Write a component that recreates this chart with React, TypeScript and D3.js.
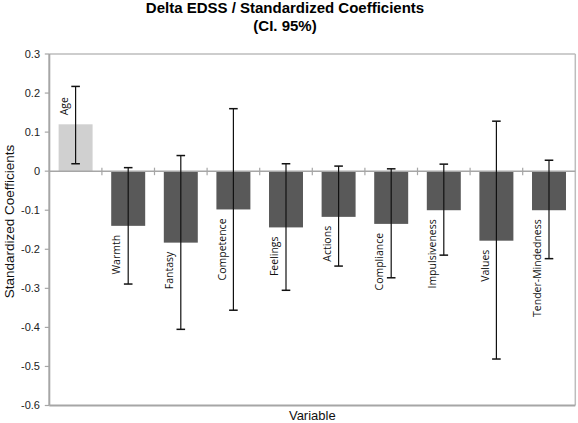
import React from "react";
import * as d3 from "d3";

const categories = ["Age", "Warmth", "Fantasy", "Competence", "Feelings", "Actions", "Compliance", "Impulsiveness", "Values", "Tender-Mindedness"];
const coefficients = [0.12, -0.14, -0.183, -0.098, -0.144, -0.117, -0.135, -0.1, -0.178, -0.1];
const ciUpper = [0.217, 0.009, 0.04, 0.16, 0.019, 0.013, 0.006, 0.018, 0.128, 0.028];
const ciLower = [0.019, -0.289, -0.405, -0.356, -0.305, -0.243, -0.273, -0.215, -0.481, -0.224];
const yTicks = [0.3, 0.2, 0.1, 0, -0.1, -0.2, -0.3, -0.4, -0.5, -0.6];

const W = 578;
const H = 423;
const left = 49.3;
const right = 575.3;
const top = 54;
const bottom = 405.5;

export default function App() {
  const x = d3.scaleBand<string>().domain(categories).range([left, right]).paddingInner(0.354).paddingOuter(0.177);
  const y = d3.scaleLinear().domain([-0.6, 0.3]).range([bottom, top]);
  const step = x.step();
  const bw = x.bandwidth();
  const y0 = y(0);
  const fmt = (v: number) => (v === 0 ? "0" : d3.format(".1f")(v).replace("\u2212", "-"));
  const sans = "'Liberation Sans', Arial, sans-serif";
  const lab = "'Open Sans', sans-serif";

  return (
    <svg width={W} height={H} style={{ position: "absolute", left: 0, top: 0, background: "#fff" }}>
      <rect x={0} y={0} width={W} height={H} fill="#fff" />
      {/* title */}
      <text x={285} y={13} textAnchor="middle" fontFamily={sans} fontWeight="bold" fontSize={15} fill="#000">
        Delta EDSS / Standardized Coefficients
      </text>
      <text x={285} y={31} textAnchor="middle" fontFamily={sans} fontWeight="bold" fontSize={15} fill="#000">
        (CI. 95%)
      </text>

      {/* frame */}
      <line x1={left} x2={right} y1={top} y2={top} stroke="#bdbdbd" strokeWidth={1.5} />
      <line x1={right} x2={right} y1={top} y2={bottom} stroke="#bdbdbd" strokeWidth={1.5} />
      <line x1={left} x2={right} y1={bottom} y2={bottom} stroke="#a6a6a6" strokeWidth={2} />
      <line x1={left} x2={left} y1={top} y2={bottom} stroke="#a6a6a6" strokeWidth={2} />

      {/* y ticks */}
      {yTicks.map((t) => (
        <g key={t}>
          <line x1={left - 4.5} x2={left} y1={y(t)} y2={y(t)} stroke="#a6a6a6" strokeWidth={1.2} />
          <text x={40} y={y(t)} dy="0.35em" textAnchor="end" fontFamily={sans} fontSize={11} fill="#222">
            {fmt(t)}
          </text>
        </g>
      ))}

      {/* bars */}
      {categories.map((c, i) => {
        const v = coefficients[i];
        const bx = x(c) as number;
        return (
          <rect
            key={c}
            x={bx}
            y={Math.min(y(v), y0)}
            width={bw}
            height={Math.abs(y(v) - y0)}
            fill={v >= 0 ? "#d0d0d0" : "#595959"}
          />
        );
      })}

      {/* zero line */}
      <line x1={left} x2={right} y1={y0} y2={y0} stroke="#a6a6a6" strokeWidth={1.5} />
      {categories.map((c, i) =>
        i === 0 ? null : (
          <line key={c} x1={left + i * step} x2={left + i * step} y1={y0 - 3.5} y2={y0 + 4} stroke="#a6a6a6" strokeWidth={1.2} />
        )
      )}

      {/* error bars */}
      {categories.map((c, i) => {
        const cx = (x(c) as number) + bw / 2;
        return (
          <g key={c} stroke="#111">
            <line x1={cx} x2={cx} y1={y(ciUpper[i])} y2={y(ciLower[i])} strokeWidth={1.2} />
            <line x1={cx - 4.3} x2={cx + 4.3} y1={y(ciUpper[i])} y2={y(ciUpper[i])} strokeWidth={1.5} />
            <line x1={cx - 4.3} x2={cx + 4.3} y1={y(ciLower[i])} y2={y(ciLower[i])} strokeWidth={1.5} />
          </g>
        );
      })}

      {/* category labels */}
      {categories.map((c, i) => {
        const v = coefficients[i];
        const cx = (x(c) as number) + bw / 2 - 11.5;
        const yy = v >= 0 ? y(v) - 9 : y(v) + 9;
        return (
          <text
            key={c}
            transform={`translate(${cx},${yy}) rotate(-90)`}
            dy="0.35em"
            textAnchor={v >= 0 ? "start" : "end"}
            fontFamily={lab}
            fontSize={10.5}
            fill="#111"
          >
            {c}
          </text>
        );
      })}

      {/* axis titles */}
      <text x={(left + right) / 2} y={420} textAnchor="middle" fontFamily={sans} fontSize={13} fill="#111">
        Variable
      </text>
      <text transform={`translate(14,221.5) rotate(-90)`} textAnchor="middle" fontFamily={sans} fontSize={13.5} fill="#111">
        Standardized Coefficients
      </text>
    </svg>
  );
}
